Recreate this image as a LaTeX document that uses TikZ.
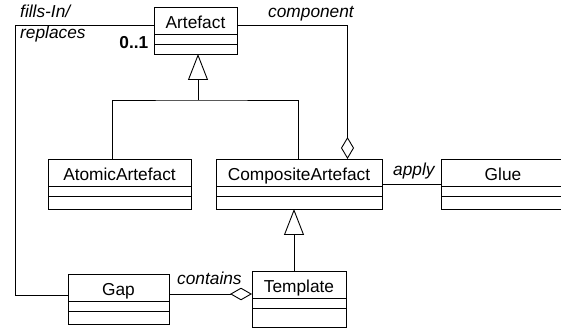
\documentclass[tikz,border=0pt]{standalone}
\usepackage{fontspec}
\setmainfont{Liberation Sans}
\usetikzlibrary{arrows.meta}

% A UML class: outer box plus name, with two compartment dividers
\newcommand\umlclass[6]{%
  \node[classbox, minimum width=#4pt, minimum height=#5pt, anchor=north west] (#1) at (#2,#3) {};
  \node[classname, anchor=base] (#1-t) at ([yshift=-21.5pt]#1.north) {#6};
  \draw[line] ([yshift=-27pt]#1.north west) -- ([yshift=-27pt]#1.north east);
  \draw[line] ([yshift=-37pt]#1.north west) -- ([yshift=-37pt]#1.north east);
}

\tikzset{
  line/.style={line width=0.9pt, black},
  classbox/.style={draw, line width=0.9pt, inner sep=0pt, outer sep=0pt},
  classname/.style={font=\fontsize{17.3}{20}\selectfont, inner sep=0pt},
  rolelabel/.style={font=\fontsize{17.3}{20}\selectfont\itshape, inner sep=0pt},
  gen/.style={line, -{Triangle[open, length=26pt, width=20pt]}},
  agg/.style={line, {Diamond[open, length=22pt, width=13pt]}-},
  aggh/.style={line, -{Diamond[open, length=22pt, width=12.5pt]}},
}

\begin{document}
\begin{tikzpicture}[x=1pt, y=-1pt]
\useasboundingbox (0,0) rectangle (561,328);
\begin{scope}
\clip (0,0) rectangle (561,328);

% classes
\umlclass{art}{154}{7}{83}{47}{Artefact}
\umlclass{atom}{48}{159}{143}{50}{AtomicArtefact}
\umlclass{comp}{216}{159}{166}{50}{CompositeArtefact}
\umlclass{glue}{441}{159}{124}{50}{Glue}
\umlclass{tmpl}{252}{271}{94}{56}{Template}
\umlclass{gap}{68}{274}{101}{50}{Gap}

% generalization: AtomicArtefact / CompositeArtefact -> Artefact
\coordinate (j1) at (198,100);
\draw[line] ([xshift=-7.5pt]atom.north) |- (j1) -| ([xshift=-1pt]comp.north);
\draw[gen] (j1) -- (j1 |- art.south);

% generalization: Template -> CompositeArtefact
\draw[gen] ([xshift=-5pt]tmpl.north) -- ([xshift=-5pt]tmpl.north |- comp.south);

% aggregation: CompositeArtefact <>-- Artefact (component)
\draw[agg] ([xshift=48.5pt]comp.north) |- ([yshift=5.5pt]art.east);

% association: CompositeArtefact -- Glue (apply)
\draw[line] (comp.east) -- (glue.west);

% aggregation: Gap --<> Template (contains)
\draw[aggh] ([yshift=5pt]gap.east) -- ([yshift=5pt]gap.east -| tmpl.west);

% association: Artefact -- Gap (fills-In/replaces)
\coordinate (lf) at (15,0);
\draw[line] ([yshift=5.5pt]art.west) -| ([yshift=4pt]gap.west -| lf) -- ([yshift=4pt]gap.west);

% labels
\node[rolelabel, anchor=base west] (l-fills) at (20,18) {fills-In/};
\node[rolelabel, anchor=base west] (l-repl) at (20,38.5) {replaces};
\node[classname, font=\fontsize{17.3}{20}\selectfont\bfseries, anchor=base east] (l-mult) at (148.5,48.5) {0..1};
\node[rolelabel, anchor=base west] (l-comp) at (268,18) {component};
\node[rolelabel, anchor=base west] (l-apply) at (393,176) {apply};
\node[rolelabel, anchor=base west] (l-cont) at (177,284) {contains};
\end{scope}
\end{tikzpicture}
\end{document}
